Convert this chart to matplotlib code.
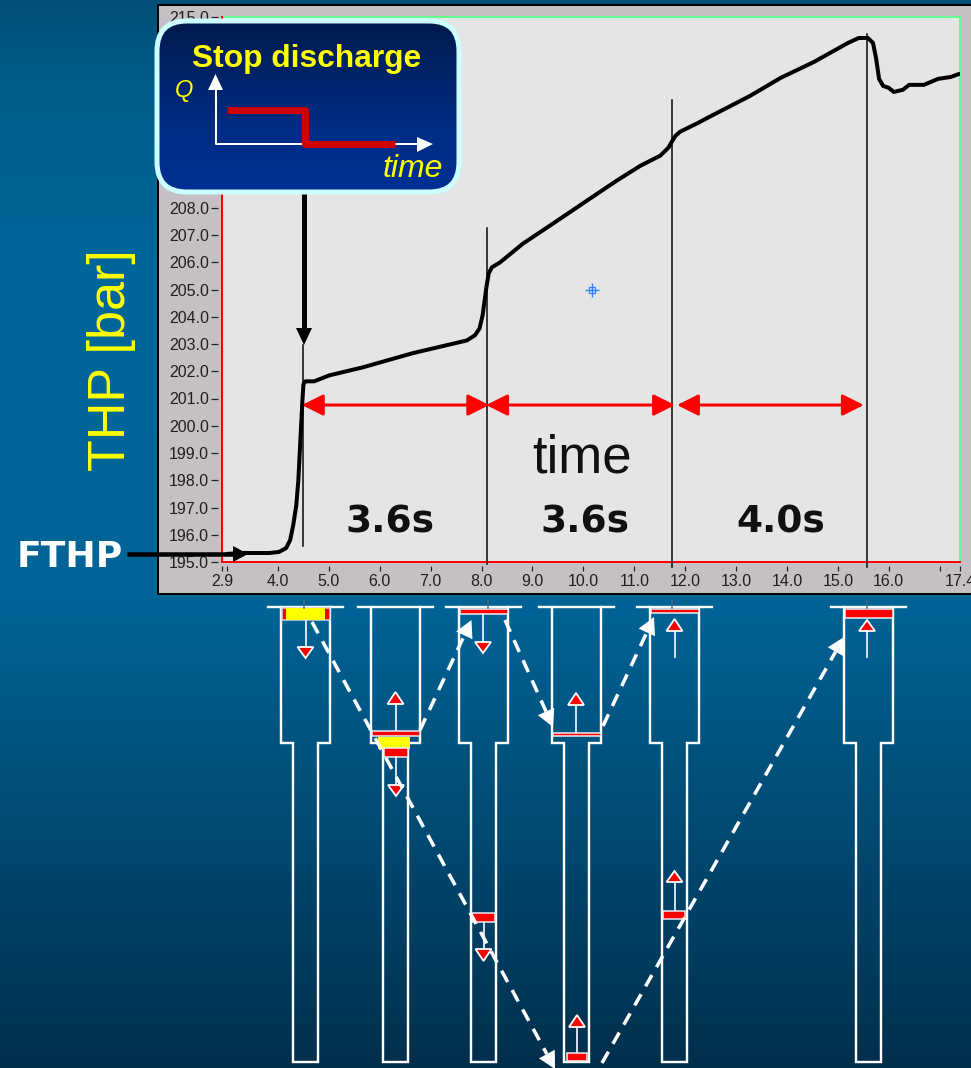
import numpy as np
import matplotlib
matplotlib.use("Agg")
import matplotlib.pyplot as plt
from matplotlib.patches import FancyBboxPatch, Polygon, Rectangle
from matplotlib.colors import to_rgb

# ---- data ----
time_s = [3.0, 3.33, 3.83, 4.02, 4.16, 4.24, 4.30, 4.36, 4.40, 4.44, 4.48, 4.50, 4.54, 4.71, 5.01, 5.66, 6.64,
          7.71, 7.87, 7.96, 8.02, 8.06, 8.10, 8.14, 8.20, 8.36, 8.81, 9.34, 10.07, 10.66, 11.12, 11.51,
          11.67, 11.75, 11.81, 11.90, 12.26, 12.44, 13.28, 13.88, 14.53, 15.20, 15.41, 15.59, 15.69, 15.75,
          15.81, 15.89, 16.00, 16.10, 16.28, 16.40, 16.69, 16.97, 17.22, 17.38]
thp_bar = [195.3, 195.33, 195.33, 195.37, 195.51, 195.81, 196.36, 197.09, 198.0, 199.47, 200.93, 201.52, 201.63,
           201.63, 201.85, 202.14, 202.66, 203.13, 203.32, 203.57, 204.05, 204.6, 205.15, 205.59, 205.81,
           205.99, 206.68, 207.34, 208.26, 209.0, 209.54, 209.91, 210.2, 210.46, 210.64, 210.79, 211.12,
           211.3, 212.11, 212.77, 213.35, 214.05, 214.23, 214.23, 214.05, 213.5, 212.73, 212.47, 212.4,
           212.25, 212.33, 212.51, 212.51, 212.73, 212.8, 212.91]
marker_times = [4.50, 8.11, 11.75, 15.58]
marker_bottom = [195.6, 194.93, 194.82, 194.82]
marker_top = [202.95, 207.27, 211.96, 214.38]
span_starts = [4.47, 8.09, 11.84]
span_ends = [8.15, 11.80, 15.51]
span_level = 200.76
span_labels = ["3.6s", "3.6s", "4.0s"]
span_label_times = [6.19, 10.03, 13.87]
span_label_level = 196.45
cursor_time = 10.17
cursor_bar = 205.0
xtick_values = [2.9, 3.0, 4.0, 5.0, 6.0, 7.0, 8.0, 9.0, 10.0, 11.0, 12.0, 13.0, 14.0, 15.0, 16.0, 17.0, 17.4]
xtick_labels = ["2.9", "", "4.0", "5.0", "6.0", "7.0", "8.0", "9.0", "10.0", "11.0", "12.0", "13.0", "14.0",
                "15.0", "16.0", "", "17.4"]
ytick_values = list(range(195, 216))
ytick_labels = ["195.0", "196.0", "197.0", "198.0", "199.0", "200.0", "201.0", "202.0", "203.0", "204.0", "205.0",
                "206.0", "207.0", "208.0", "", "", "", "", "", "", "215.0"]

W, H = 971, 1068
px = 72 / 100  # points per pixel
fig = plt.figure(figsize=(W / 100, H / 100), dpi=100)
plt.rcParams['font.family'] = ['Liberation Sans', 'DejaVu Sans']


def full_axes(z):
    a = fig.add_axes([0, 0, 1, 1], zorder=z)
    a.set_xlim(0, W)
    a.set_ylim(H, 0)
    a.axis('off')
    return a


def gradient(stops, n=512):
    ys = np.linspace(0, 1, n)
    pos = [s[0] for s in stops]
    cols = np.array([to_rgb(s[1]) for s in stops])
    return np.stack([np.interp(ys, pos, cols[:, i]) for i in range(3)], axis=1)[:, None, :]


# ---- background and window ----
bg = full_axes(0)
bg.imshow(gradient([(0, '#004f78'), (0.09, '#005e8c'), (0.25, '#006699'), (0.56, '#006497'), (0.8, '#00476e'),
                    (1, '#002f4c')]), extent=[0, W, H, 0], aspect='auto')
bg.set_xlim(0, W)
bg.set_ylim(H, 0)
bg.add_patch(Rectangle((158, 5), W, 589, fc='#C4C0C4', ec='black', lw=2 * px))

# ---- main chart ----
ax = fig.add_axes([222 / W, 1 - 562 / H, 738 / W, 545 / H], zorder=1)
ax.set_facecolor('#E5E5E5')
ax.set_xlim(2.9, 17.4)
ax.set_ylim(195, 215)
for s in ax.spines.values():
    s.set_visible(False)
ax.spines['left'].set_position(('outward', 4 * px))
ax.spines['bottom'].set_position(('outward', 4 * px))
ax.set_xticks(xtick_values, xtick_labels)
ax.set_yticks(ytick_values, ytick_labels)
ax.tick_params(axis='both', width=1.2 * px, color='#202020', labelcolor='#202020', labelsize=11.5)
ax.tick_params(axis='y', length=7 * px, pad=2 * px)
ax.tick_params(axis='x', length=5 * px, pad=3 * px)
ax.plot([2.9, 17.4], [215, 215], color='#60FF90', lw=2 * px, clip_on=False, zorder=1)
ax.plot([17.4, 17.4], [195, 215], color='#60FF90', lw=2 * px, clip_on=False, zorder=1)
ax.plot([2.9, 17.4], [195, 195], color='#FF0000', lw=2 * px, clip_on=False, zorder=1.5)
ax.plot([2.9, 2.9], [195, 215], color='#FF0000', lw=2 * px, clip_on=False, zorder=1.5)

ax.plot(time_s, thp_bar, color='black', lw=4 * px, solid_joinstyle='round', solid_capstyle='round', zorder=3)
for t, lo, hi in zip(marker_times, marker_bottom, marker_top):
    ax.plot([t, t], [lo, hi], color='#111111', lw=1.6 * px, clip_on=False, zorder=2.5)
ax.plot(cursor_time, cursor_bar, marker='+', ms=14 * px, mew=1.4 * px, color='#3080FF', zorder=3)
ax.plot(cursor_time, cursor_bar, marker='s', ms=6 * px, mew=1.2 * px, mfc='none', mec='#3080FF', zorder=3)
for a, b in zip(span_starts, span_ends):
    ax.annotate('', xy=(b, span_level), xytext=(a, span_level),
                arrowprops=dict(arrowstyle='<|-|>,head_length=1.0,head_width=0.5', color='#FF0000',
                                lw=3 * px, mutation_scale=13, shrinkA=0, shrinkB=0), zorder=4)
for t, s in zip(span_label_times, span_labels):
    ax.text(t, span_label_level, s, family='DejaVu Sans', weight='bold', fontsize=27, color='#101010',
            ha='center', va='center', zorder=4)
ax.text(9.98, 198.3, 'time', family='Liberation Sans', fontsize=38, color='#101010', ha='center',
        va='baseline', zorder=4)

# ---- overlay: callout, labels, wellbore sketches ----
ov = full_axes(2)
ov.patch.set_visible(False)

box = FancyBboxPatch((157, 21), 302, 171, boxstyle='round,pad=0,rounding_size=30', fc='none', ec='none')
ov.add_patch(box)
img = ov.imshow(gradient([(0, '#001A4D'), (0.65, '#002D85'), (1, '#003092')]), extent=[157, 459, 192, 21],
                aspect='auto', zorder=2)
img.set_clip_path(box)
ov.set_xlim(0, W)
ov.set_ylim(H, 0)
ov.add_patch(FancyBboxPatch((157, 21), 302, 171, boxstyle='round,pad=0,rounding_size=30', fc='none', ec='#CCFFFF',
                            lw=5 * px, zorder=3))
ov.text(307, 67, 'Stop discharge', weight='bold', fontsize=22.9, color='#FFFF00', ha='center', va='baseline', zorder=5)
ov.text(184, 97, 'Q', style='italic', fontsize=17, color='#FFFF00', ha='center', va='baseline', zorder=5)
ov.text(413, 177, 'time', style='italic', fontsize=23, color='#FFFF00', ha='center', va='baseline', zorder=5)
ov.plot([216, 216, 418], [88, 144, 144], color='white', lw=2 * px, zorder=4)
ov.add_patch(Polygon([(215.5, 74), (208, 90), (223, 90)], fc='white', ec='none', zorder=4))
ov.add_patch(Polygon([(433, 144), (417, 137), (417, 152)], fc='white', ec='none', zorder=4))
ov.plot([227, 305, 305, 395], [110, 110, 144, 144], color='#CC0000', lw=7 * px, solid_joinstyle='round',
        solid_capstyle='butt', zorder=4.5)

ov.text(112, 360.5, 'THP [bar]', rotation=90, fontsize=37.5, color='#FFFF00', ha='center', va='center',
        rotation_mode='anchor', zorder=5)
ov.text(69.5, 567, 'FTHP', family='DejaVu Sans', weight='bold', fontsize=26, color='white', ha='center',
        va='baseline', zorder=5)
# black pointers
ov.plot([127, 236], [554, 554], color='black', lw=4.5 * px, solid_capstyle='butt', zorder=5)
ov.add_patch(Polygon([(248, 554), (233, 546), (233, 562)], fc='black', ec='none', zorder=5))
ov.plot([304, 304], [192, 332], color='black', lw=5 * px, solid_capstyle='butt', zorder=2.5)
ov.add_patch(Polygon([(304, 345), (296, 328), (312, 328)], fc='black', ec='none', zorder=2.5))

# wells: centre x
well_centres = [305.5, 395.5, 483.5, 576.5, 674.5, 868.5]
for c in well_centres:
    ov.plot([c - 37.5, c + 37.5], [607, 607], color='white', lw=2.4 * px, zorder=3)
    ov.plot([c - 24.5, c - 24.5, c - 12.5, c - 12.5, c + 12.5, c + 12.5, c + 24.5, c + 24.5],
            [607, 743, 743, 1062, 1062, 743, 743, 607], color='white', lw=2.4 * px, solid_joinstyle='miter', zorder=3)
for x in [303.5, 487.5, 671.5, 866.5]:
    ov.plot([x, x], [601, 608], color='#556678', lw=1.5 * px, zorder=3.5)


def bar(x0, x1, y0, y1, col='#FF0000', edge='#E8F0F8'):
    ov.add_patch(Rectangle((x0, y0), x1 - x0, y1 - y0, fc=col, ec=edge, lw=1.5 * px, zorder=3.2))


def flow(x, start, base, tip):
    ov.plot([x, x], [start, base], color='#E8F0F8', lw=1.8 * px, zorder=3.2)
    ov.add_patch(Polygon([(x, tip), (x - 8, base), (x + 8, base)], fc='#FF0000', ec='white', lw=1.8 * px,
                         joinstyle='miter', zorder=3.3))


# well 1
bar(281.5, 329.5, 608, 620, edge='#C8D8E8')
bar(286, 325, 608, 620, col='#FFFF00', edge='none')
flow(305.5, 620, 647, 658)
# well 2
bar(371.5, 419.5, 731, 736)
bar(378, 410, 737, 749, col='#FFFF00', edge='none')
bar(384, 408, 748, 757)
flow(395.5, 730, 704, 692)
flow(396, 757, 785, 796)
# well 3
bar(459.5, 507.5, 609, 613.5)
flow(483, 614, 642, 653)
bar(472, 495, 913, 922)
flow(483.5, 923, 949, 961)
# well 4
bar(552.5, 600.5, 732.5, 736)
flow(576, 732, 705, 693)
bar(567, 587, 1053, 1061)
flow(577, 1052, 1027, 1015)
# well 5
bar(650.5, 698.5, 609, 612.5)
flow(674.5, 657, 631, 619)
bar(663, 685, 911, 919)
flow(674.5, 910, 882, 871)
# well 6
bar(844.5, 892.5, 609, 617.5)
flow(867, 657, 631, 620)


def dashed(p0, p1, head=17):
    p0, p1 = np.array(p0, float), np.array(p1, float)
    d = (p1 - p0) / np.hypot(*(p1 - p0))
    n = np.array([-d[1], d[0]])
    base = p1 - d * head
    ov.plot([p0[0], base[0]], [p0[1], base[1]], color='white', lw=3.5 * px, dashes=(3.7, 2.6), dash_capstyle='butt',
            zorder=4)
    ov.add_patch(Polygon([p1, base + n * 9, base - n * 9], fc='white', ec='none', zorder=4))


dashed((312, 622), (555, 1069))
dashed((420, 730), (471.5, 620))
dashed((505, 620), (553, 727))
dashed((603, 726), (654, 617))
dashed((602, 1063), (844, 637))

fig.savefig('out.png', dpi=100)
